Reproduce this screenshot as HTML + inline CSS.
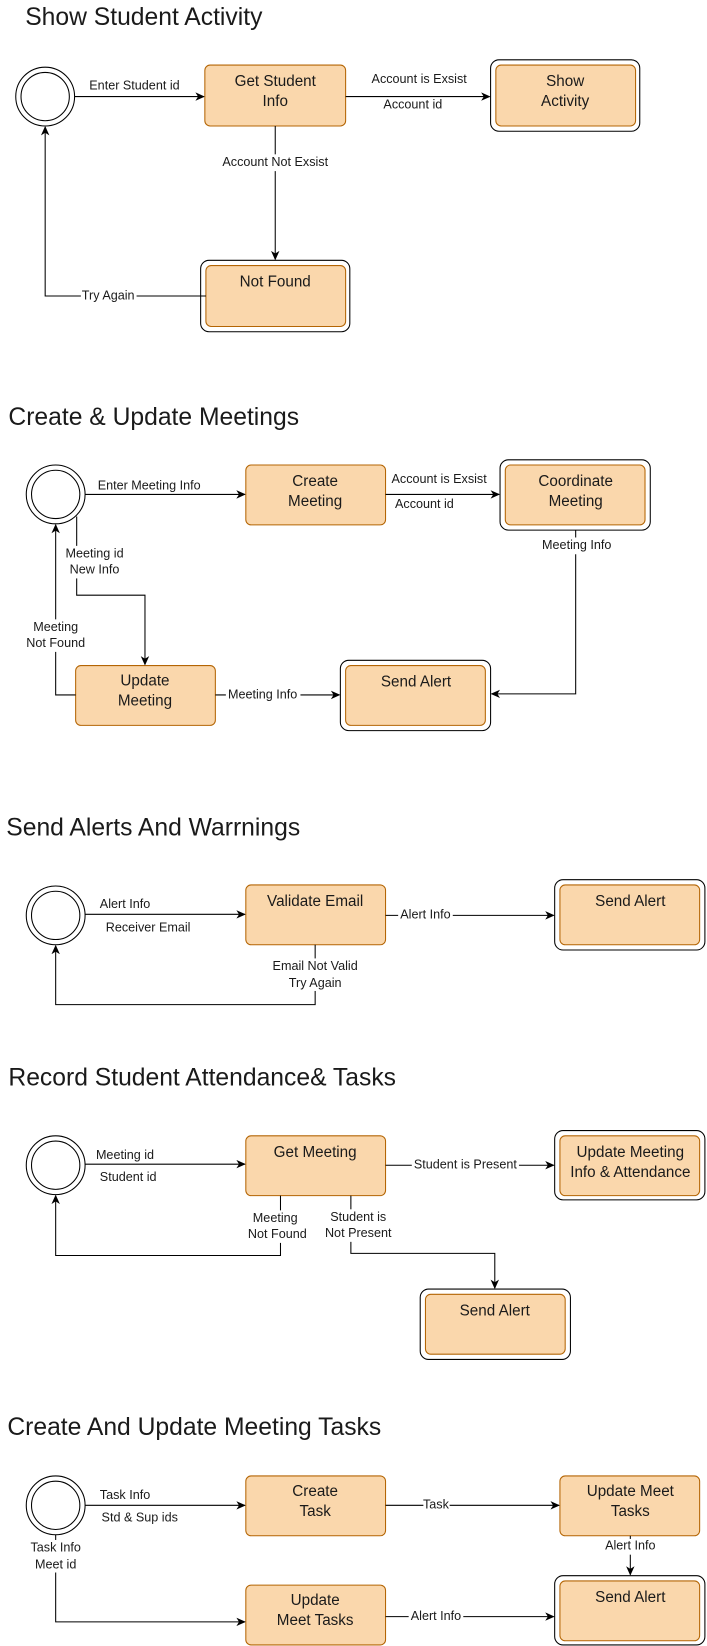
<!DOCTYPE html>
<html><head><meta charset="utf-8"><style>
html,body{margin:0;padding:0;background:#fff;}
svg{display:block;}
text{font-family:"Liberation Sans",Arial,sans-serif;fill:#1a1a1a;}
.t{font-size:23.5px;}
.b{font-size:14.5px;text-anchor:middle;}
.l{font-size:12px;text-anchor:middle;dominant-baseline:middle;}
.bx{fill:#fad7ac;stroke:#b46504;stroke-width:1;}
.ob{fill:#fff;stroke:#000;stroke-width:1;}
.ln{fill:none;stroke:#000;stroke-width:1;}
.bg{fill:#fff;}
</style></head><body>
<svg width="707" height="1646" viewBox="0 0 673 1568" preserveAspectRatio="none" xmlns="http://www.w3.org/2000/svg">
<defs><marker id="a" markerWidth="10" markerHeight="10" refX="8" refY="5" orient="auto" markerUnits="userSpaceOnUse"><path d="M0,1 L9,5 L0,9 L2.5,5 z" fill="#000"/></marker></defs>

<!-- Section 1 -->
<text class="t" x="24" y="24">Show Student Activity</text>
<circle cx="43" cy="92" r="28" class="ob"/><circle cx="43" cy="92" r="23" class="ob"/>
<rect class="bx" x="195" y="62" width="134" height="58" rx="5"/>
<text class="b" x="262" y="82">Get Student</text><text class="b" x="262" y="101">Info</text>
<line class="ln" x1="71" y1="92" x2="194" y2="92" marker-end="url(#a)"/>
<text class="l" x="128" y="82">Enter Student id</text>
<rect class="ob" x="467" y="57" width="142" height="68" rx="8"/>
<rect class="bx" x="472" y="62" width="133" height="58" rx="5"/>
<text class="b" x="538" y="82">Show</text><text class="b" x="538" y="101">Activity</text>
<line class="ln" x1="329" y1="92" x2="466" y2="92" marker-end="url(#a)"/>
<text class="l" x="399" y="76">Account is Exsist</text>
<text class="l" x="393" y="100">Account id</text>
<line class="ln" x1="262" y1="120" x2="262" y2="247" marker-end="url(#a)"/>
<rect class="bg" x="210" y="147" width="104" height="16"/>
<text class="l" x="262" y="155">Account Not Exsist</text>
<rect class="ob" x="191" y="248" width="142" height="68" rx="8"/>
<rect class="bx" x="196" y="253" width="133" height="58" rx="5"/>
<text class="b" x="262" y="273">Not Found</text>
<polyline class="ln" points="196,282 43,282 43,121" marker-end="url(#a)"/>
<rect class="bg" x="77" y="275" width="53" height="15"/>
<text class="l" x="103" y="282">Try Again</text>

<!-- Section 2 -->
<text class="t" x="8" y="405">Create &amp; Update Meetings</text>
<circle cx="53" cy="471" r="28" class="ob"/><circle cx="53" cy="471" r="23" class="ob"/>
<rect class="bx" x="234" y="443" width="133" height="57" rx="5"/>
<text class="b" x="300" y="463">Create</text><text class="b" x="300" y="482">Meeting</text>
<line class="ln" x1="81" y1="471" x2="233" y2="471" marker-end="url(#a)"/>
<text class="l" x="142" y="463">Enter Meeting Info</text>
<rect class="ob" x="476" y="438" width="143" height="67" rx="8"/>
<rect class="bx" x="481" y="443" width="133" height="57" rx="5"/>
<text class="b" x="548" y="463">Coordinate</text><text class="b" x="548" y="482">Meeting</text>
<line class="ln" x1="367" y1="471" x2="475" y2="471" marker-end="url(#a)"/>
<text class="l" x="418" y="457">Account is Exsist</text>
<text class="l" x="404" y="481">Account id</text>
<polyline class="ln" points="548,505 548,661 468,661" marker-end="url(#a)"/>
<rect class="bg" x="514" y="512" width="70" height="16"/>
<text class="l" x="549" y="520">Meeting Info</text>
<rect class="ob" x="324" y="629" width="143" height="67" rx="8"/>
<rect class="bx" x="329" y="634" width="133" height="57" rx="5"/>
<text class="b" x="396" y="654">Send Alert</text>
<rect class="bx" x="72" y="634" width="133" height="57" rx="5"/>
<text class="b" x="138" y="653">Update</text><text class="b" x="138" y="672">Meeting</text>
<line class="ln" x1="205" y1="662" x2="323" y2="662" marker-end="url(#a)"/>
<rect class="bg" x="215" y="655" width="71" height="15"/>
<text class="l" x="250" y="662">Meeting Info</text>
<polyline class="ln" points="73,492 73,567 138,567 138,633" marker-end="url(#a)"/>
<rect class="bg" x="60" y="520" width="60" height="31"/>
<text class="l" x="90" y="528">Meeting id</text>
<text class="l" x="90" y="543">New Info</text>
<polyline class="ln" points="72,662 53,662 53,500" marker-end="url(#a)"/>
<rect class="bg" x="22" y="590" width="62" height="31"/>
<text class="l" x="53" y="598">Meeting</text>
<text class="l" x="53" y="613">Not Found</text>

<!-- Section 3 -->
<text class="t" x="6" y="796">Send Alerts And Warrnings</text>
<circle cx="53" cy="872" r="28" class="ob"/><circle cx="53" cy="872" r="23" class="ob"/>
<rect class="bx" x="234" y="843" width="133" height="57" rx="5"/>
<text class="b" x="300" y="863">Validate Email</text>
<line class="ln" x1="81" y1="871" x2="233" y2="871" marker-end="url(#a)"/>
<text class="l" x="119" y="862">Alert Info</text>
<text class="l" x="141" y="884">Receiver Email</text>
<rect class="ob" x="528" y="838" width="143" height="67" rx="8"/>
<rect class="bx" x="533" y="843" width="133" height="57" rx="5"/>
<text class="b" x="600" y="863">Send Alert</text>
<line class="ln" x1="367" y1="872" x2="527" y2="872" marker-end="url(#a)"/>
<rect class="bg" x="379" y="865" width="52" height="15"/>
<text class="l" x="405" y="872">Alert Info</text>
<polyline class="ln" points="300,900 300,957 53,957 53,901" marker-end="url(#a)"/>
<rect class="bg" x="256" y="913" width="88" height="31"/>
<text class="l" x="300" y="921">Email Not Valid</text>
<text class="l" x="300" y="937">Try Again</text>

<!-- Section 4 -->
<text class="t" x="8" y="1034">Record Student Attendance&amp; Tasks</text>
<circle cx="53" cy="1110" r="28" class="ob"/><circle cx="53" cy="1110" r="23" class="ob"/>
<rect class="bx" x="234" y="1082" width="133" height="57" rx="5"/>
<text class="b" x="300" y="1102">Get Meeting</text>
<line class="ln" x1="81" y1="1109" x2="233" y2="1109" marker-end="url(#a)"/>
<text class="l" x="119" y="1101">Meeting id</text>
<text class="l" x="122" y="1122">Student id</text>
<rect class="ob" x="528" y="1077" width="143" height="66" rx="8"/>
<rect class="bx" x="533" y="1082" width="133" height="57" rx="5"/>
<text class="b" x="600" y="1102">Update Meeting</text>
<text class="b" x="600" y="1121">Info &amp; Attendance</text>
<line class="ln" x1="367" y1="1110" x2="527" y2="1110" marker-end="url(#a)"/>
<rect class="bg" x="392" y="1103" width="102" height="15"/>
<text class="l" x="443" y="1110">Student is Present</text>
<polyline class="ln" points="267,1139 267,1196 53,1196 53,1139" marker-end="url(#a)"/>
<rect class="bg" x="234" y="1153" width="60" height="31"/>
<text class="l" x="262" y="1161">Meeting</text>
<text class="l" x="264" y="1176">Not Found</text>
<polyline class="ln" points="334,1139 334,1194 471,1194 471,1227" marker-end="url(#a)"/>
<rect class="bg" x="307" y="1152" width="68" height="31"/>
<text class="l" x="341" y="1160">Student is</text>
<text class="l" x="341" y="1175">Not Present</text>
<rect class="ob" x="400" y="1228" width="143" height="67" rx="8"/>
<rect class="bx" x="405" y="1233" width="133" height="57" rx="5"/>
<text class="b" x="471" y="1253">Send Alert</text>

<!-- Section 5 -->
<text class="t" x="7" y="1367">Create And Update  Meeting Tasks</text>
<circle cx="53" cy="1434" r="28" class="ob"/><circle cx="53" cy="1434" r="23" class="ob"/>
<rect class="bx" x="234" y="1406" width="133" height="57" rx="5"/>
<text class="b" x="300" y="1425">Create</text><text class="b" x="300" y="1444">Task</text>
<line class="ln" x1="81" y1="1434" x2="233" y2="1434" marker-end="url(#a)"/>
<text class="l" x="119" y="1425">Task Info</text>
<text class="l" x="133" y="1446">Std &amp; Sup ids</text>
<rect class="bx" x="533" y="1406" width="133" height="57" rx="5"/>
<text class="b" x="600" y="1425">Update Meet</text><text class="b" x="600" y="1444">Tasks</text>
<line class="ln" x1="367" y1="1434" x2="532" y2="1434" marker-end="url(#a)"/>
<rect class="bg" x="403" y="1427" width="25" height="15"/>
<text class="l" x="415" y="1434">Task</text>
<line class="ln" x1="600" y1="1463" x2="600" y2="1500" marker-end="url(#a)"/>
<rect class="bg" x="574" y="1466" width="52" height="15"/>
<text class="l" x="600" y="1473">Alert Info</text>
<rect class="ob" x="528" y="1501" width="143" height="66" rx="8"/>
<rect class="bx" x="533" y="1506" width="133" height="57" rx="5"/>
<text class="b" x="600" y="1526">Send Alert</text>
<rect class="bx" x="234" y="1510" width="133" height="57" rx="5"/>
<text class="b" x="300" y="1529">Update</text><text class="b" x="300" y="1548">Meet Tasks</text>
<polyline class="ln" points="53,1462 53,1545 233,1545" marker-end="url(#a)"/>
<rect class="bg" x="27" y="1467" width="52" height="31"/>
<text class="l" x="53" y="1475">Task Info</text>
<text class="l" x="53" y="1491">Meet id</text>
<line class="ln" x1="367" y1="1540" x2="527" y2="1540" marker-end="url(#a)"/>
<rect class="bg" x="389" y="1533" width="52" height="15"/>
<text class="l" x="415" y="1540">Alert Info</text>
</svg>
</body></html>
